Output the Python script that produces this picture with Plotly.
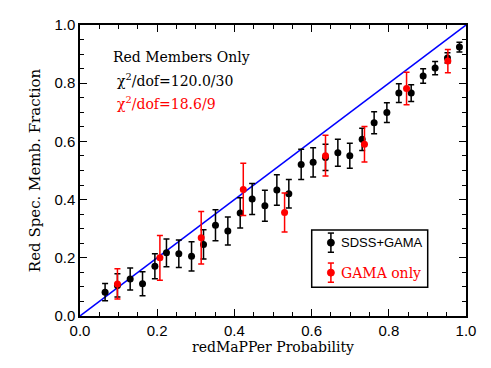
import plotly.graph_objects as go

# SDSS+GAMA bins (black)
prob_all = [0.065, 0.097, 0.130, 0.162, 0.194, 0.224, 0.256, 0.289, 0.320, 0.351,
            0.383, 0.415, 0.446, 0.479, 0.510, 0.541, 0.573, 0.604, 0.636, 0.668,
            0.699, 0.731, 0.762, 0.795, 0.826, 0.858, 0.889, 0.920, 0.952, 0.983]
frac_all = [0.082, 0.105, 0.127, 0.111, 0.171, 0.217, 0.214, 0.205, 0.246, 0.312,
            0.292, 0.354, 0.402, 0.379, 0.433, 0.420, 0.521, 0.528, 0.545, 0.561,
            0.551, 0.607, 0.664, 0.699, 0.766, 0.766, 0.825, 0.852, 0.887, 0.924]
err_all = [0.030, 0.040, 0.038, 0.041, 0.043, 0.048, 0.047, 0.050, 0.050, 0.053,
           0.048, 0.052, 0.053, 0.053, 0.052, 0.049, 0.052, 0.050, 0.045, 0.046,
           0.043, 0.038, 0.038, 0.034, 0.032, 0.029, 0.025, 0.023, 0.018, 0.017]

# GAMA only bins (red)
prob_gama = [0.097, 0.207, 0.314, 0.423, 0.530, 0.636, 0.737, 0.846, 0.953]
frac_gama = [0.110, 0.200, 0.269, 0.435, 0.356, 0.551, 0.590, 0.782, 0.876]
err_gama = [0.052, 0.077, 0.090, 0.090, 0.067, 0.070, 0.061, 0.056, 0.040]

one_to_one = [0, 1]

serif = "DejaVu Serif"
sans = "Liberation Sans"

fig = go.Figure()
fig.add_trace(go.Scatter(x=one_to_one, y=one_to_one, mode='lines',
                         line=dict(color='#0000ff', width=1.5), showlegend=False))
fig.add_trace(go.Scatter(x=prob_all, y=frac_all, mode='markers',
                         marker=dict(color='black', size=7),
                         error_y=dict(type='data', array=err_all, color='black',
                                      thickness=1.5, width=3),
                         showlegend=False))
fig.add_trace(go.Scatter(x=prob_gama, y=frac_gama, mode='markers',
                         marker=dict(color='#ff0000', size=7),
                         error_y=dict(type='data', array=err_gama, color='#ff0000',
                                      thickness=1.5, width=3),
                         showlegend=False))

axis_style = dict(range=[0, 1], showline=True, linecolor='black', linewidth=1.5,
                  mirror='ticks', ticks='inside', ticklen=7, tickwidth=1.2,
                  tickcolor='black', dtick=0.2, tickformat='.1f', showgrid=False,
                  zeroline=False, automargin=False,
                  tickfont=dict(family=sans, size=15, color='black'),
                  minor=dict(dtick=0.05, ticks='inside', ticklen=4, tickwidth=1.2,
                             tickcolor='black', showgrid=False))

# page body adds an 8px offset, so the figure is 8px smaller than the window
fig.update_layout(
    width=483, height=360,
    margin=dict(l=72, r=25, t=17, b=52),
    paper_bgcolor='white', plot_bgcolor='white',
    xaxis=dict(axis_style, title=dict(text='redMaPPer Probability', standoff=2,
                                      font=dict(family=serif, size=14, color='black'))),
    yaxis=dict(axis_style, title=dict(text='Red Spec. Memb. Fraction', standoff=10,
                                      font=dict(family=serif, size=15, color='black'))),
)

# text labels
fig.add_annotation(x=0.08, y=0.891, xref='paper', yref='paper', xanchor='left',
                   yanchor='middle', text='Red Members Only', showarrow=False,
                   font=dict(family=serif, size=14, color='black'))
fig.add_annotation(x=0.09, y=0.811, xref='paper', yref='paper', xanchor='left',
                   yanchor='middle', text='χ<sup>2</sup>/dof=120.0/30', showarrow=False,
                   font=dict(family=serif, size=14, color='black'))
fig.add_annotation(x=0.09, y=0.732, xref='paper', yref='paper', xanchor='left',
                   yanchor='middle', text='χ<sup>2</sup>/dof=18.6/9', showarrow=False,
                   font=dict(family=serif, size=14, color='#ff0000'))

# legend box drawn by hand so the error-bar symbol shows
x0, x1 = (311.7 - 80) / 386, (427.7 - 80) / 386
y0, y1 = (316 - 287.3) / 291, (316 - 230) / 291
fig.add_shape(type='rect', xref='paper', yref='paper', x0=x0, x1=x1, y0=y0, y1=y1,
              line=dict(color='black', width=1.5), fillcolor='white')
for yc, col, label, fam, fs in [(0.252, 'black', 'SDSS+GAMA', sans, 13),
                                (0.149, '#ff0000', 'GAMA only', serif, 14)]:
    xs = 0.650
    h = 0.033
    fig.add_shape(type='line', xref='paper', yref='paper', x0=xs, x1=xs,
                  y0=yc - h, y1=yc + h, line=dict(color=col, width=1.5))
    for yy in (yc - h, yc + h):
        fig.add_shape(type='line', xref='paper', yref='paper', x0=xs - 0.008,
                      x1=xs + 0.008, y0=yy, y1=yy, line=dict(color=col, width=1.5))
    fig.add_shape(type='circle', xref='paper', yref='paper', x0=xs - 0.009,
                  x1=xs + 0.009, y0=yc - 0.012, y1=yc + 0.012,
                  line=dict(color=col, width=1), fillcolor=col)
    fig.add_annotation(x=0.671, y=yc, xref='paper', yref='paper',
                       xanchor='left', yanchor='middle', text=label, showarrow=False,
                       font=dict(family=fam, size=fs, color=col))

fig.write_html("out.html")
